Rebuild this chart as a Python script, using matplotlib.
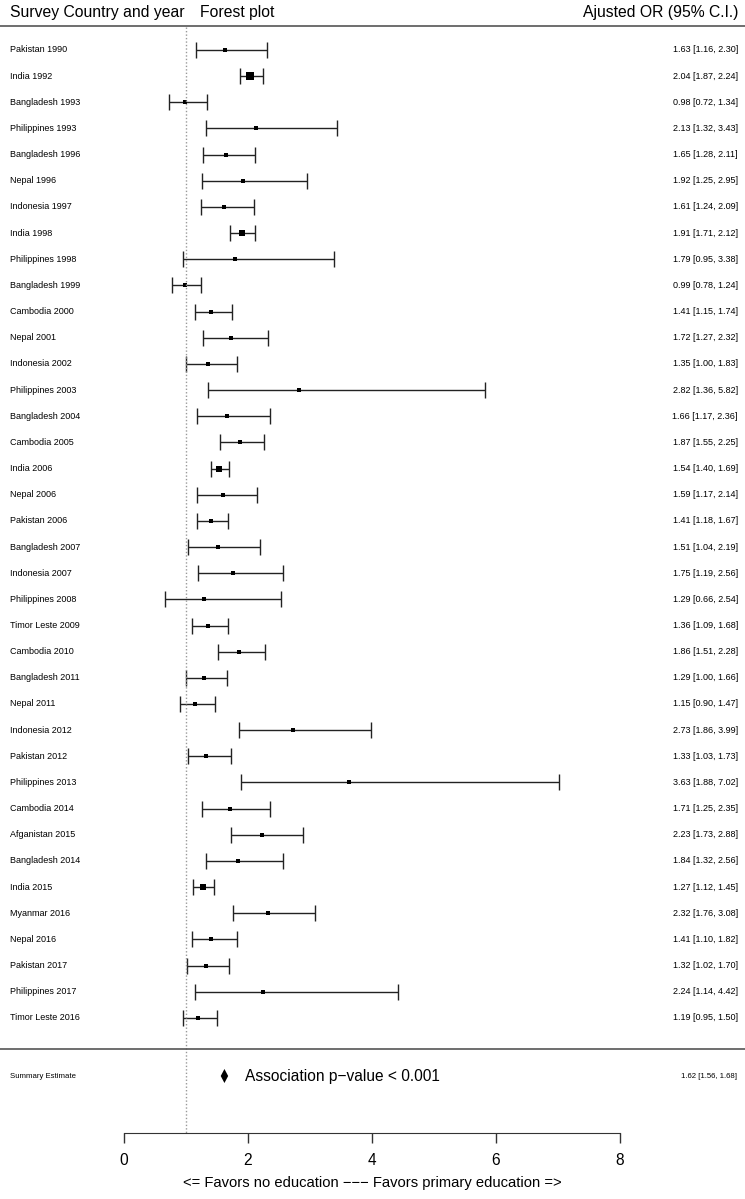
import numpy as np
import matplotlib
matplotlib.use("Agg")
import matplotlib.pyplot as plt
from matplotlib.transforms import blended_transform_factory

plt.rcParams['font.family'] = ['Liberation Sans', 'DejaVu Sans']

# data
studies = ['Pakistan 1990', 'India 1992', 'Bangladesh 1993', 'Philippines 1993',
           'Bangladesh 1996', 'Nepal 1996', 'Indonesia 1997', 'India 1998',
           'Philippines 1998', 'Bangladesh 1999', 'Cambodia 2000', 'Nepal 2001',
           'Indonesia 2002', 'Philippines 2003', 'Bangladesh 2004', 'Cambodia 2005',
           'India 2006', 'Nepal 2006', 'Pakistan 2006', 'Bangladesh 2007',
           'Indonesia 2007', 'Philippines 2008', 'Timor Leste 2009', 'Cambodia 2010',
           'Bangladesh 2011', 'Nepal 2011', 'Indonesia 2012', 'Pakistan 2012',
           'Philippines 2013', 'Cambodia 2014', 'Afganistan 2015', 'Bangladesh 2014',
           'India 2015', 'Myanmar 2016', 'Nepal 2016', 'Pakistan 2017',
           'Philippines 2017', 'Timor Leste 2016']
odds = [1.63, 2.04, 0.98, 2.13, 1.65, 1.92, 1.61, 1.91, 1.79, 0.99, 1.41, 1.72, 1.35,
        2.82, 1.66, 1.87, 1.54, 1.59, 1.41, 1.51, 1.75, 1.29, 1.36, 1.86, 1.29, 1.15,
        2.73, 1.33, 3.63, 1.71, 2.23, 1.84, 1.27, 2.32, 1.41, 1.32, 2.24, 1.19]
lower = [1.16, 1.87, 0.72, 1.32, 1.28, 1.25, 1.24, 1.71, 0.95, 0.78, 1.15, 1.27, 1.00,
         1.36, 1.17, 1.55, 1.40, 1.17, 1.18, 1.04, 1.19, 0.66, 1.09, 1.51, 1.00, 0.90,
         1.86, 1.03, 1.88, 1.25, 1.73, 1.32, 1.12, 1.76, 1.10, 1.02, 1.14, 0.95]
upper = [2.30, 2.24, 1.34, 3.43, 2.11, 2.95, 2.09, 2.12, 3.38, 1.24, 1.74, 2.32, 1.83,
         5.82, 2.36, 2.25, 1.69, 2.14, 1.67, 2.19, 2.56, 2.54, 1.68, 2.28, 1.66, 1.47,
         3.99, 1.73, 7.02, 2.35, 2.88, 2.56, 1.45, 3.08, 1.82, 1.70, 4.42, 1.50]
summary_or = 1.62
summary_ci = (1.56, 1.68)
x_ticks = [0, 2, 4, 6, 8]

W, H = 745, 1199
fig = plt.figure(figsize=(W / 100, H / 100), dpi=100)
# axes spans the full height; y is measured in pixels from the top
ax = fig.add_axes([124 / W, 0, 496 / W, 1])
ax.set_xlim(0, 8)
ax.set_ylim(H, 0)

row0, step = 50, 26.16
rows = row0 + step * np.arange(len(studies))
lo = np.array(lower)
hi = np.array(upper)
est = np.array(odds)

# box size inversely proportional to the CI width on log scale
box_px = np.maximum(3.3, 1.3 / np.log(hi / lo))

for y, e, l, h, b in zip(rows, est, lo, hi, box_px):
    ax.errorbar(e, y, xerr=[[e - l], [h - e]], fmt='none', ecolor='#222222',
                elinewidth=1, capsize=5.8, capthick=1)
    ax.plot(e, y, marker='s', color='black', ms=b * 0.72, mew=0, linestyle='none')

# reference line at OR = 1
ax.plot([1, 1], [27, 1133], color='#999999', linestyle=(0, (1, 1.5)), lw=1)

# summary diamond
ys = 1076
ax.fill([summary_ci[0], summary_or, summary_ci[1], summary_or],
        [ys, ys - 7, ys, ys + 7], color='black', lw=0)
ax.text(summary_or + 0.33, ys, 'Association p\u2212value < 0.001', fontsize=11.2,
        va='center', ha='left')

# x axis drawn R-style
for s in ['top', 'right', 'left']:
    ax.spines[s].set_visible(False)
ax.spines['bottom'].set_position(('data', 1133))
ax.spines['bottom'].set_color('#333333')
ax.set_yticks([])
ax.set_xticks(x_ticks)
ax.tick_params(axis='x', direction='out', length=7.2, width=1, color='#333333',
               labelsize=11.2, pad=7)
ax.text(4, 1183, '<= Favors no education \u2212\u2212\u2212 Favors primary education =>',
        fontsize=10.6, ha='center', va='center')

tr = blended_transform_factory(fig.transFigure, ax.transData)
fx = lambda px: px / W

ax.text(fx(10), 12, 'Survey Country and year', transform=tr, fontsize=11.3,
        va='center', ha='left')
ax.text(fx(200), 12, 'Forest plot', transform=tr, fontsize=11.3, va='center', ha='left')
ax.text(fx(738), 12, 'Ajusted OR (95% C.I.)', transform=tr, fontsize=11.3,
        va='center', ha='right')

ax.plot([0, 1], [26, 26], transform=tr, color='#555555', lw=1.2, clip_on=False)
ax.plot([0, 1], [1049, 1049], transform=tr, color='#555555', lw=1.2, clip_on=False)

for y, name, e, l, h in zip(rows, studies, est, lo, hi):
    ax.text(fx(10), y, name, transform=tr, fontsize=6.5, va='center', ha='left')
    ax.text(fx(738), y, '%.2f [%.2f, %.2f]' % (e, l, h), transform=tr, fontsize=6.5,
            va='center', ha='right')

ax.text(fx(10), ys, 'Summary Estimate', transform=tr, fontsize=5.6, va='center', ha='left')
ax.text(fx(737), ys, '%.2f [%.2f, %.2f]' % (summary_or, *summary_ci), transform=tr,
        fontsize=5.6, va='center', ha='right')

fig.savefig('out.png', dpi=100)
